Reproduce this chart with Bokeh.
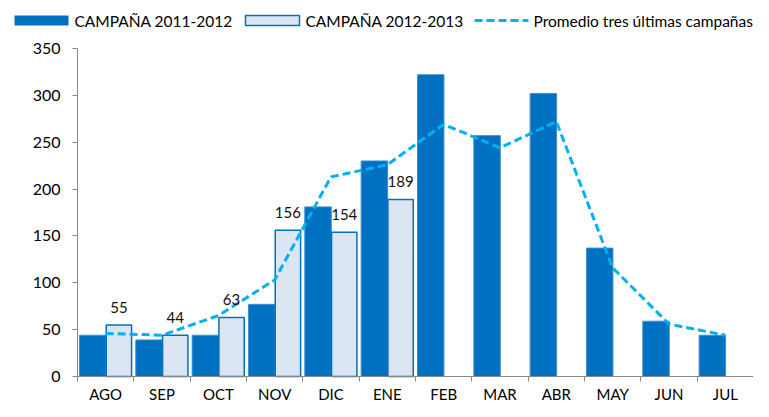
import numpy as np
from bokeh.plotting import figure
from bokeh.models import Range1d, FixedTicker, ColumnDataSource
from bokeh.embed import file_html
from bokeh.resources import INLINE
from bokeh.core.properties import value

months = ["AGO", "SEP", "OCT", "NOV", "DIC", "ENE", "FEB", "MAR", "ABR", "MAY", "JUN", "JUL"]
campana_2011_2012 = [44, 39, 44, 77, 181, 230, 322, 257, 302, 137, 59, 44]
campana_2012_2013 = [55, 44, 63, 156, 154, 189]
promedio_tres = [46, 44, 65, 103, 213, 226, 269, 244, 272, 116, 56, 44]
y_ticks = [0, 50, 100, 150, 200, 250, 300, 350]
series_names = ["CAMPAÑA 2011-2012", "CAMPAÑA 2012-2013", "Promedio tres últimas campañas"]

FONT = "Lato"
DARK = "#0070c0"
LIGHT = "#dce6f2"
CYAN = "#00b0f0"

W, H = 753, 401
# plot area (pixels on the canvas)
AX_L, AX_R, AX_T, AX_B = 77, 753, 48, 376
Y_MAX = 350

n = len(months)
centers = np.arange(n) + 0.5
bounds = list(np.arange(n + 1).astype(float))

# ranges that place the plot area at the pixel box above, frame = whole canvas
xs = (AX_R - AX_L) / n
ys = (AX_B - AX_T) / Y_MAX
x_range = Range1d(-AX_L / xs, n + (W - AX_R) / xs)
y_range = Range1d(-(H - AX_B) / ys, Y_MAX + AX_T / ys)

src1 = ColumnDataSource(dict(x=centers - 0.23, top=campana_2011_2012))
src2 = ColumnDataSource(dict(x=centers[:len(campana_2012_2013)] + 0.235,
                             top=campana_2012_2013,
                             lbl=[str(v) for v in campana_2012_2013]))
src3 = ColumnDataSource(dict(x=centers, y=promedio_tres))

bar1_style = dict(fill_color=DARK, line_color="#3d8fd0", line_width=1)
bar2_style = dict(fill_color=LIGHT, line_color=DARK, line_width=1.5)
line_style = dict(line_color=CYAN, line_width=3, line_dash="8 4")

p = figure(width=W, height=H, output_backend="svg", toolbar_location=None,
           x_range=x_range, y_range=y_range,
           min_border_left=0, min_border_right=0, min_border_top=0, min_border_bottom=0)
p.outline_line_color = None
p.xgrid.visible = False
p.ygrid.visible = False
p.extra_x_ranges = {"px": Range1d(0, W)}
p.extra_y_ranges = {"px": Range1d(H, 0)}

p.vbar(x="x", top="top", width=0.47, bottom=0, source=src1, **bar1_style)
p.vbar(x="x", top="top", width=0.45, bottom=0, source=src2, **bar2_style)
p.line(x="x", y="y", source=src3, **line_style)
p.text(x="x", y="top", text="lbl", source=src2, text_align="center",
       text_baseline="bottom", y_offset=-12, text_font=value(FONT),
       text_font_size="15px", text_color="#111111")

ax = p.xaxis[0]
ax.fixed_location = 0
ax.bounds = (0, n)
ax.ticker = FixedTicker(ticks=list(centers), minor_ticks=bounds)
ax.major_label_overrides = {float(c): m for c, m in zip(centers, months)}
ax.major_tick_out = 0
ax.major_tick_in = 0
ax.minor_tick_out = 5
ax.minor_tick_in = 0
ax.minor_tick_line_color = "#888888"
ax.axis_line_color = "#888888"
ax.major_label_text_font = FONT
ax.major_label_text_font_size = "15px"
ax.major_label_text_color = "#000000"
ax.major_label_standoff = 3

ay = p.yaxis[0]
ay.fixed_location = 0
ay.bounds = (0, Y_MAX)
ay.ticker = FixedTicker(ticks=y_ticks)
ay.major_tick_out = 5
ay.major_tick_in = 0
ay.minor_tick_out = 0
ay.minor_tick_in = 0
ay.major_tick_line_color = "#888888"
ay.axis_line_color = "#888888"
ay.major_label_text_font = FONT
ay.major_label_text_font_size = "16px"
ay.major_label_text_color = "#000000"
ay.major_label_standoff = 12

# ---- legend (pixel coordinates) ----
px = dict(x_range_name="px", y_range_name="px")
sw_top, sw_bot, mid = 15, 25, 20.5
p.quad(left=[14], right=[68], top=[sw_top], bottom=[sw_bot], fill_color=DARK, line_color=None, **px)
p.quad(left=[245], right=[299], top=[sw_top], bottom=[sw_bot], **bar2_style, **px)
p.line(x=[474, 528], y=[mid - 0.5, mid - 0.5], **line_style, **px)
p.text(x=[74, 305, 533], y=[mid, mid, mid], text=series_names,
       text_baseline="middle", text_align="left", text_font=value(FONT),
       text_font_size="15.5px", text_color="#000000", **px)

open("out.html", "w").write(file_html(p, INLINE))
